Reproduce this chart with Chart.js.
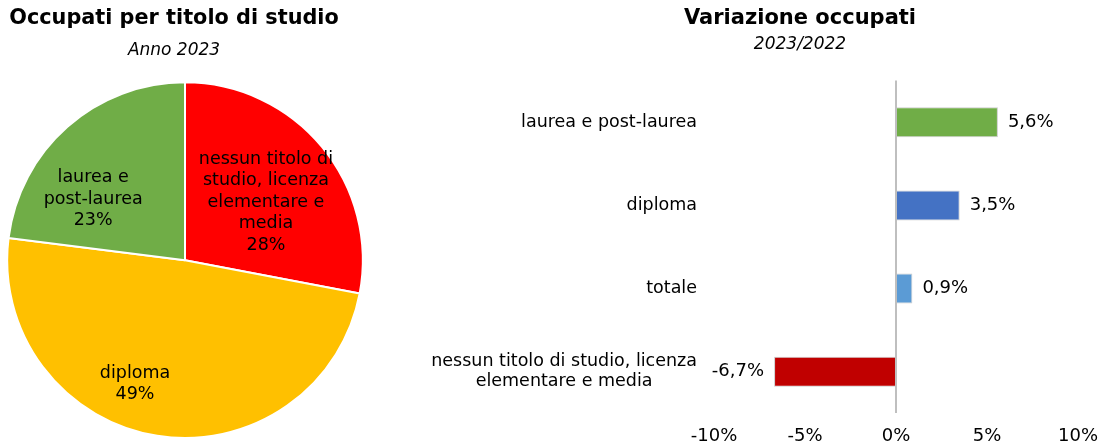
<!DOCTYPE html>
<html>
<head>
<meta charset="utf-8">
<script src="https://cdn.jsdelivr.net/npm/chart.js@4.4.1/dist/chart.umd.min.js"></script>
<style>
body { margin:0; width:1100px; height:442px; overflow:hidden; background:#fff; position:relative; }
#pie { position:absolute; left:-5px; top:0; }
#bars { position:absolute; left:420px; top:0; }
</style>
</head>
<body>
<canvas id="pie" width="380" height="442"></canvas>
<canvas id="bars" width="690" height="463"></canvas>
<script>
// pie: occupati 2023 by titolo di studio (%)
var pieLabels = [['nessun titolo di', 'studio, licenza', 'elementare e', 'media'], ['diploma'], ['laurea e', 'post-laurea']];
var pieValues = [28, 49, 23];
var pieColors = ['#FF0000', '#FFC000', '#70AD47'];

// bars: variazione 2023/2022 (%)
var barLabels = ['laurea e post-laurea', 'diploma', 'totale', ['nessun titolo di studio, licenza', 'elementare e media']];
var barValues = [5.6, 3.5, 0.9, -6.7];
var barColors = ['#70AD47', '#4472C4', '#5B9BD5', '#C00000'];
var xTicks = [-10, -5, 0, 5, 10];

var FONT = "'DejaVu Sans', Verdana, sans-serif";
Chart.defaults.font.family = FONT;
Chart.defaults.color = '#000';

function fmt(v)
{
    return v.toFixed(1).replace('.', ',') + '%';
}

// move the pie right of the title centre (the title stays where it is)
var shiftAreaPlugin = {
    id: 'shiftArea',
    afterLayout: function(chart, args, opts) {
        chart.chartArea.left += opts.dx;
        chart.chartArea.right += opts.dx;
    }
};

var pieLabelPlugin = {
    id: 'pieLabels',
    afterDatasetsDraw: function(chart, args, opts) {
        var ctx = chart.ctx;
        var meta = chart.getDatasetMeta(0);
        ctx.save();
        ctx.font = opts.font;
        ctx.fillStyle = '#000';
        ctx.textAlign = 'center';
        ctx.textBaseline = 'middle';
        meta.data.forEach(function(arc, i) {
            var p = arc.getProps(['x', 'y', 'startAngle', 'endAngle', 'outerRadius'], true);
            var place = opts.placement[i];
            var a = (p.startAngle + p.endAngle) / 2 + place.shift * Math.PI / 180;
            var r = p.outerRadius * place.radius;
            var cx = p.x + Math.cos(a) * r, cy = p.y + Math.sin(a) * r;
            var lines = [].concat(chart.data.labels[i], chart.data.datasets[0].data[i] + '%');
            var top = cy - (lines.length - 1) * opts.lineHeight / 2;
            lines.forEach(function(t, k) { ctx.fillText(t, cx, top + k * opts.lineHeight); });
        });
        ctx.restore();
    }
};

var barLabelPlugin = {
    id: 'barLabels',
    afterDatasetsDraw: function(chart, args, opts) {
        var ctx = chart.ctx;
        var meta = chart.getDatasetMeta(0);
        ctx.save();
        ctx.font = opts.font;
        ctx.fillStyle = '#000';
        ctx.textBaseline = 'middle';
        meta.data.forEach(function(bar, i) {
            var v = chart.data.datasets[0].data[i];
            ctx.textAlign = v >= 0 ? 'left' : 'right';
            ctx.fillText(fmt(v), bar.x + (v >= 0 ? opts.gap : -opts.gap), bar.y);
        });
        ctx.restore();
    }
};

// category labels: right aligned block, lines centred inside the block
var catLabelPlugin = {
    id: 'catLabels',
    afterDraw: function(chart, args, opts) {
        var ctx = chart.ctx;
        var scale = chart.scales.y;
        ctx.save();
        ctx.font = opts.font;
        ctx.fillStyle = '#000';
        ctx.textAlign = 'center';
        ctx.textBaseline = 'middle';
        chart.data.labels.forEach(function(lab, i) {
            var lines = [].concat(lab);
            var w = Math.max.apply(null, lines.map(function(t) { return ctx.measureText(t).width; }));
            var cx = chart.chartArea.left - opts.pad - w / 2;
            var top = scale.getPixelForTick(i) - (lines.length - 1) * opts.lineHeight / 2;
            lines.forEach(function(t, k) { ctx.fillText(t, cx, top + k * opts.lineHeight); });
        });
        ctx.restore();
    }
};

new Chart(document.getElementById('pie'), {
    type: 'pie',
    data: {
        labels: pieLabels,
        datasets: [{
            data: pieValues,
            backgroundColor: pieColors,
            borderColor: '#fff',
            borderWidth: 2
        }]
    },
    plugins: [shiftAreaPlugin, pieLabelPlugin],
    options: {
        responsive: false,
        animation: false,
        devicePixelRatio: 1,
        layout: { padding: { left: 0, right: 22, top: 0, bottom: 3 } },
        plugins: {
            legend: { display: false },
            tooltip: { enabled: false },
            title: {
                display: true,
                text: 'Occupati per titolo di studio',
                font: { size: 20.8, weight: 'bold' },
                padding: { top: 6, bottom: 0 }
            },
            subtitle: {
                display: true,
                text: 'Anno 2023',
                font: { size: 17, style: 'italic' },
                padding: { top: 9, bottom: 21 }
            },
            shiftArea: { dx: 11 },
            pieLabels: {
                font: '17.5px ' + FONT,
                lineHeight: 21.5,
                placement: [
                    { radius: 0.56, shift: 4 },
                    { radius: 0.75, shift: 13 },
                    { radius: 0.62, shift: -15 }
                ]
            }
        }
    }
});

new Chart(document.getElementById('bars'), {
    type: 'bar',
    data: {
        labels: barLabels,
        datasets: [{
            data: barValues,
            backgroundColor: barColors,
            borderColor: 'rgba(200,200,200,0.9)',
            borderWidth: 1,
            barPercentage: 0.36,
            categoryPercentage: 1
        }]
    },
    plugins: [barLabelPlugin, catLabelPlugin],
    options: {
        indexAxis: 'y',
        responsive: false,
        animation: false,
        devicePixelRatio: 1,
        layout: { padding: { left: 70, right: 0, top: 0, bottom: 4 } },
        scales: {
            x: {
                min: -10,
                max: 10,
                afterBuildTicks: function(scale) {
                    scale.ticks = xTicks.map(function(v) { return { value: v }; });
                },
                ticks: {
                    font: { size: 18 },
                    padding: 12,
                    maxRotation: 0,
                    callback: function(v) { return v + '%'; }
                },
                grid: {
                    drawTicks: false,
                    lineWidth: 2,
                    color: function(c) { return c.tick && c.tick.value === 0 ? '#BFBFBF' : 'rgba(0,0,0,0)'; }
                },
                border: { display: false }
            },
            y: {
                afterFit: function(scale) { scale.width = 224; },
                ticks: { display: false },
                grid: { display: false, drawTicks: false },
                border: { display: false }
            }
        },
        plugins: {
            legend: { display: false },
            tooltip: { enabled: false },
            title: {
                display: true,
                text: 'Variazione occupati',
                font: { size: 21, weight: 'bold' },
                padding: { top: 6, bottom: 0 }
            },
            subtitle: {
                display: true,
                text: '2023/2022',
                font: { size: 17, style: 'italic' },
                padding: { top: 3, bottom: 26 }
            },
            barLabels: { font: '18px ' + FONT, gap: 10 },
            catLabels: { font: '17.5px ' + FONT, lineHeight: 20, pad: 17 }
        }
    }
});
</script>
</body>
</html>
